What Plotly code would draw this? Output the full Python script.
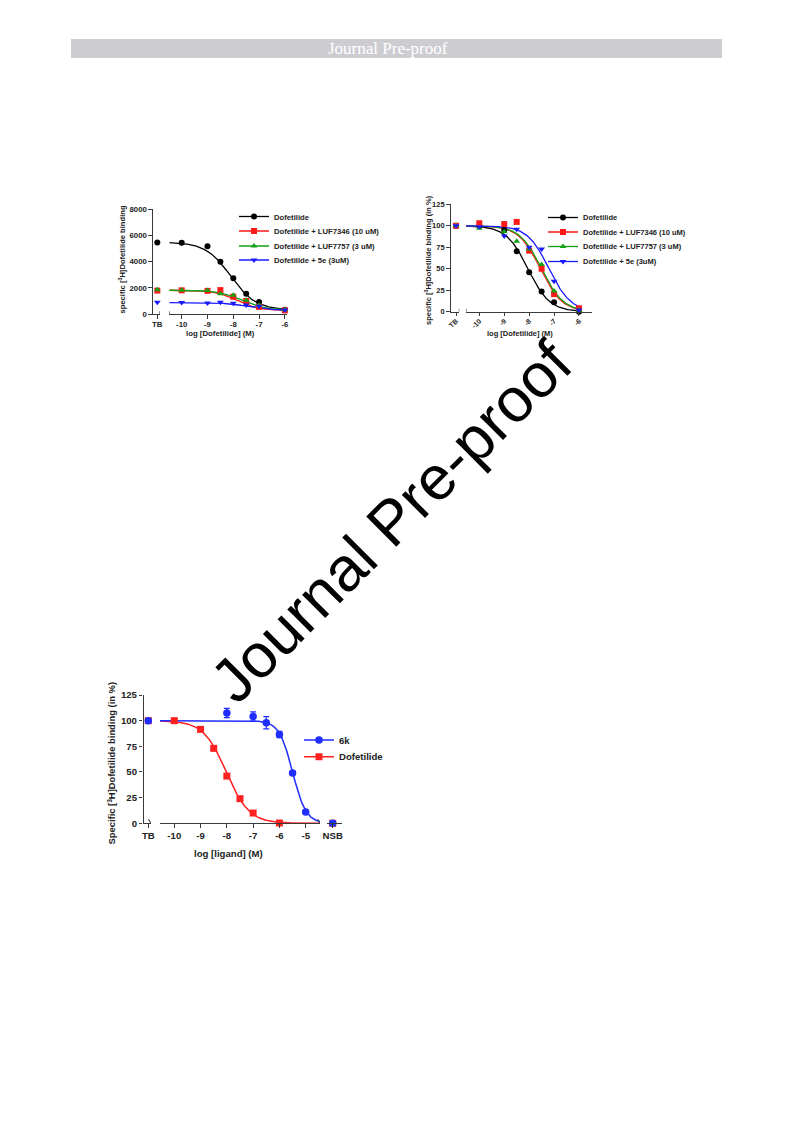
import numpy as np
import plotly.graph_objects as go

# ---------------- data ----------------
# Panel A: specific [3H]dofetilide binding (dpm), log concentration of dofetilide
a_log_dose = [-10, -9, -8.5, -8, -7.5, -7, -6]
a_dofetilide = [5440, 5170, 4000, 2730, 1570, 940, 350]
a_luf7346 = [1820, 1780, 1840, 1340, 1010, 560, 300]
a_luf7757 = [1830, 1800, 1570, 1440, 1060, 690, 340]
a_5e = [890, 860, 910, 835, 710, 610, 330]
a_tb = [5460, 1800, 1860, 920]
# fit parameters: top, bottom, logIC50, Hill slope
a_fit_dofetilide = [5480, 330, -8.1, 0.9]
a_fit_luf7346 = [1830, 280, -7.85, 1.0]
a_fit_luf7757 = [1830, 330, -7.7, 1.0]
a_fit_5e = [880, 300, -7.4, 1.0]

# Panel B: same experiment normalised to total binding (%)
b_log_dose = [-10, -9, -8.5, -8, -7.5, -7, -6]
b_dofetilide = [100, 95, 70.5, 46, 23.5, 11, 0]
b_luf7346 = [103, 102, 104.5, 71, 50, 20.5, 4]
b_luf7757 = [97, 93, 82, 73, 55, 24, 2]
b_5e = [99, 88, 96, 75, 73, 35.5, 2]
b_tb = [100, 100, 100, 100]
b_fit_dofetilide = [100, 0, -8.05, 1.0]
b_fit_luf7346 = [100, 0, -7.55, 1.0]
b_fit_luf7757 = [100, 0, -7.5, 1.0]
b_fit_5e = [100, 0, -7.2, 1.0]

# Panel C: displacement by 6k and dofetilide (%)
c_log_dose_6k = [-8, -7, -6.5, -6, -5.5, -5]
c_6k = [107.5, 104, 98, 86.5, 49, 11]
c_6k_err = [4.5, 4.5, 6, 3, 1.5, 1.5]
c_6k_tb = 100
c_6k_tb_err = 2
c_6k_nsb = 0
c_6k_nsb_err = 1.5
c_log_dose_dof = [-10, -9, -8.5, -8, -7.5, -7, -6]
c_dofetilide = [100, 91.5, 73, 46, 24, 10, 0.3]
c_dof_tb = 100
c_dof_nsb = 0
c_fit_6k = [100, 0, -5.5, 1.7]
c_fit_dofetilide = [100, 0, -8.02, 1.0]

a_names = ["Dofetilide", "Dofetilide + LUF7346 (10 uM)",
           "Dofetilide + LUF7757 (3 uM)", "Dofetilide + 5e (3uM)"]
c_names = ["6k", "Dofetilide"]

# ---------------- page geometry ----------------
W, H = 793, 1123
FONT = "Liberation Sans, Arial, sans-serif"


def fx(p):
    return p / W


def fy(p):
    return 1 - p / H


def logistic(x, top, bottom, logic50, hill):
    x = np.asarray(x, dtype=float)
    return bottom + (top - bottom) / (1 + 10 ** ((x - logic50) * hill))


def seg_range(seg, pos):
    # range of a one-category axis segment so that value 0 sits at pixel `pos`
    r0 = -(pos - seg[0]) / (seg[1] - seg[0])
    return [r0, r0 + 1]


COLORS = ["#000000", "#ff1a1a", "#16a016", "#1a1aff"]
SYMBOLS = ["circle", "square", "triangle-up", "triangle-down"]

fig = go.Figure()

# ---------------- axes layout ----------------
panels = {
    "A": dict(ytop=209, ybot=314.3, tb=[153, 160], tbpos=157.3,
              main=[169.3, 286.7], mrange=[-10.48, -5.93], yr=[0, 8000],
              yt=[0, 2000, 4000, 6000, 8000], fs=7.8,
              xa="x", xm="x2", ya="y"),
    "B": dict(ytop=204.3, ybot=311.7, tb=[450.7, 459.3], tbpos=456,
              main=[466, 591.7], mrange=[-10.534, -5.49], yr=[0, 125],
              yt=[0, 25, 50, 75, 100, 125], fs=7.5,
              xa="x3", xm="x4", ya="y2"),
    "C": dict(ytop=695, ybot=823.3, tb=[143.5, 151], tbpos=148.3,
              main=[160, 320], mrange=[-10.544, -4.456], yr=[0, 125],
              yt=[0, 25, 50, 75, 100, 125], fs=9.6,
              xa="x5", xm="x6", ya="y3",
              nsb=[327, 341.7], nsbpos=332.7, xn="x7"),
}


def axname(a):
    return a.replace("x", "xaxis").replace("y", "yaxis")


AXCOL = "#3a3a3a"
layout_axes = {}
for key, p in panels.items():
    tickfont = dict(family=FONT, size=p["fs"], color="#222", weight="bold")
    common = dict(showgrid=False, zeroline=False, showline=True,
                  linecolor=AXCOL, linewidth=1.2, ticks="outside",
                  ticklen=3.5, tickwidth=1.1, tickcolor=AXCOL,
                  tickfont=tickfont, fixedrange=True, automargin=False)
    xextra = {}
    if key == "A":
        xextra = dict(ticklabelstandoff=-1)
    if key == "B":
        xextra = dict(tickangle=-45, ticklabelstandoff=-2,
                      tickfont=dict(tickfont, size=7))
    layout_axes[axname(p["xa"])] = dict(
        common, domain=[fx(p["tb"][0]), fx(p["tb"][1])],
        range=seg_range(p["tb"], p["tbpos"]), anchor=p["ya"],
        tickvals=[0], ticktext=["TB"], **xextra)
    main_ticks = list(range(-10, int(np.floor(p["mrange"][1])) + 1))
    layout_axes[axname(p["xm"])] = dict(
        common, domain=[fx(p["main"][0]), fx(p["main"][1])],
        range=p["mrange"], anchor=p["ya"], tickvals=main_ticks,
        ticktext=[str(t) for t in main_ticks], **xextra)
    if "nsb" in p:
        layout_axes[axname(p["xn"])] = dict(
            common, domain=[fx(p["nsb"][0]), fx(p["nsb"][1])],
            range=seg_range(p["nsb"], p["nsbpos"]), anchor=p["ya"],
            tickvals=[0], ticktext=["NSB"])
    layout_axes[axname(p["ya"])] = dict(
        common, domain=[fy(p["ybot"]), fy(p["ytop"])], range=p["yr"],
        anchor=p["xa"], tickvals=p["yt"])


def curve_x(lo, hi):
    return np.linspace(lo, hi, 240)


# ---------------- panel A ----------------
pa = panels["A"]
a_vals = [a_dofetilide, a_luf7346, a_luf7757, a_5e]
a_fits = [a_fit_dofetilide, a_fit_luf7346, a_fit_luf7757, a_fit_5e]
xa_curve = curve_x(pa["mrange"][0], -6)
for i in range(4):
    fig.add_trace(go.Scatter(
        x=xa_curve, y=logistic(xa_curve, *a_fits[i]), mode="lines",
        line=dict(color=COLORS[i], width=1.3), xaxis="x2", yaxis="y",
        showlegend=False, hoverinfo="skip"))
for i in range(4):
    mk = dict(color=COLORS[i], symbol=SYMBOLS[i], size=6, line=dict(width=0))
    fig.add_trace(go.Scatter(x=a_log_dose, y=a_vals[i], mode="markers",
                             marker=mk, xaxis="x2", yaxis="y",
                             showlegend=False, cliponaxis=False))
    fig.add_trace(go.Scatter(x=[0], y=[a_tb[i]], mode="markers", marker=mk,
                             xaxis="x", yaxis="y", showlegend=False,
                             cliponaxis=False))
    fig.add_trace(go.Scatter(x=[None], y=[None], mode="lines+markers",
                             marker=mk, line=dict(color=COLORS[i], width=1.3),
                             name=a_names[i],
                             legend="legend" if i == 0 else f"legend{1 + i}",
                             xaxis="x2", yaxis="y"))

# ---------------- panel B ----------------
pb = panels["B"]
b_vals = [b_dofetilide, b_luf7346, b_luf7757, b_5e]
b_fits = [b_fit_dofetilide, b_fit_luf7346, b_fit_luf7757, b_fit_5e]
xb_curve = curve_x(pb["mrange"][0], -6)
for i in range(4):
    fig.add_trace(go.Scatter(
        x=xb_curve, y=logistic(xb_curve, *b_fits[i]), mode="lines",
        line=dict(color=COLORS[i], width=1.3), xaxis="x4", yaxis="y2",
        showlegend=False, hoverinfo="skip"))
for i in range(4):
    mk = dict(color=COLORS[i], symbol=SYMBOLS[i], size=6, line=dict(width=0))
    fig.add_trace(go.Scatter(x=b_log_dose, y=b_vals[i], mode="markers",
                             marker=mk, xaxis="x4", yaxis="y2",
                             showlegend=False, cliponaxis=False))
    fig.add_trace(go.Scatter(x=[0], y=[b_tb[i]], mode="markers", marker=mk,
                             xaxis="x3", yaxis="y2", showlegend=False,
                             cliponaxis=False))
    fig.add_trace(go.Scatter(x=[None], y=[None], mode="lines+markers",
                             marker=mk, line=dict(color=COLORS[i], width=1.3),
                             name=a_names[i], legend=f"legend{5 + i}",
                             xaxis="x4", yaxis="y2"))

# ---------------- panel C ----------------
pc = panels["C"]
RED, BLUE = "#ff2020", "#1f2dff"
xc_curve = curve_x(pc["mrange"][0], pc["mrange"][1])
fig.add_trace(go.Scatter(x=xc_curve, y=logistic(xc_curve, *c_fit_dofetilide),
                         mode="lines", line=dict(color=RED, width=1.5),
                         xaxis="x6", yaxis="y3", showlegend=False,
                         hoverinfo="skip"))
fig.add_trace(go.Scatter(x=xc_curve, y=logistic(xc_curve, *c_fit_6k),
                         mode="lines", line=dict(color=BLUE, width=1.5),
                         xaxis="x6", yaxis="y3", showlegend=False,
                         hoverinfo="skip"))
mk_dof = dict(color=RED, symbol="square", size=7, line=dict(width=0))
mk_6k = dict(color=BLUE, symbol="circle", size=7.5, line=dict(width=0))
fig.add_trace(go.Scatter(x=c_log_dose_dof, y=c_dofetilide, mode="markers",
                         marker=mk_dof, xaxis="x6", yaxis="y3",
                         showlegend=False, cliponaxis=False))
fig.add_trace(go.Scatter(x=[0], y=[c_dof_tb], mode="markers", marker=mk_dof,
                         xaxis="x5", yaxis="y3", showlegend=False,
                         cliponaxis=False))
fig.add_trace(go.Scatter(x=[0], y=[c_dof_nsb], mode="markers", marker=mk_dof,
                         xaxis="x7", yaxis="y3", showlegend=False,
                         cliponaxis=False))
err = dict(type="data", color=BLUE, thickness=1.2, width=3)
fig.add_trace(go.Scatter(x=c_log_dose_6k, y=c_6k, mode="markers", marker=mk_6k,
                         error_y=dict(err, array=c_6k_err),
                         xaxis="x6", yaxis="y3", showlegend=False,
                         cliponaxis=False))
fig.add_trace(go.Scatter(x=[0], y=[c_6k_tb], mode="markers", marker=mk_6k,
                         error_y=dict(err, array=[c_6k_tb_err]),
                         xaxis="x5", yaxis="y3", showlegend=False,
                         cliponaxis=False))
fig.add_trace(go.Scatter(x=[0], y=[c_6k_nsb], mode="markers", marker=mk_6k,
                         error_y=dict(err, array=[c_6k_nsb_err]),
                         xaxis="x7", yaxis="y3", showlegend=False,
                         cliponaxis=False))
for j, (name, mk, col) in enumerate([(c_names[0], mk_6k, BLUE),
                                     (c_names[1], mk_dof, RED)]):
    fig.add_trace(go.Scatter(x=[None], y=[None], mode="lines+markers",
                             marker=mk, line=dict(color=col, width=1.5),
                             name=name, legend=f"legend{9 + j}",
                             xaxis="x6", yaxis="y3"))

# ---------------- axis break marks ----------------
shapes = []


def brk(xref, xval, yref, style):
    if style == "bar":
        x0, x1, y0, y1 = 0, 0, -3, 3
    else:
        x0, x1, y0, y1 = -2.5, 2.5, 4, -4
    shapes.append(dict(type="line", xref=xref, yref=yref,
                       xsizemode="pixel", ysizemode="pixel",
                       xanchor=xval, yanchor=0, x0=x0, x1=x1, y0=y0, y1=y1,
                       line=dict(color=AXCOL, width=1.1)))


for key, xa, xm, ya, style in [("A", "x", "x2", "y", "bar"),
                               ("B", "x3", "x4", "y2", "bar"),
                               ("C", "x5", "x6", "y3", "slash")]:
    p = panels[key]
    brk(xa, seg_range(p["tb"], p["tbpos"])[1], ya, style)
    brk(xm, p["mrange"][0], ya, style)
    if key == "C":
        brk(xm, p["mrange"][1], ya, style)
        brk("x7", seg_range(p["nsb"], p["nsbpos"])[0], ya, style)

# page header band
shapes.append(dict(type="rect", xref="paper", yref="paper",
                   x0=fx(71), x1=fx(722), y0=fy(58), y1=fy(39),
                   fillcolor="#cdcdd1", line=dict(width=0), layer="below"))

# ---------------- text ----------------
annotations = []


def label(text, x, y, size, angle=0):
    annotations.append(dict(text=text, x=fx(x), y=fy(y), xref="paper",
                            yref="paper", showarrow=False, textangle=angle,
                            xanchor="center", yanchor="middle",
                            font=dict(family=FONT, size=size, color="#222",
                                      weight="bold")))


label("log [Dofetilide] (M)", 221, 333, 7.8)
label("specific [<sup>3</sup>H]Dofetilide binding", 121.5, 259, 7.6, -90)
label("log [Dofetilide] (M)", 520, 333, 7.5)
label("specific [<sup>3</sup>H]Dofetilide binding (in %)", 428, 260, 7.5, -90)
label("log [ligand] (M)", 228, 853, 9.6)
label("Specific [<sup>3</sup>H]Dofetilide binding (in %)", 111.5, 763, 9.4, -90)

annotations.append(dict(text="Journal Pre-proof", x=fx(388), y=fy(48.5),
                        xref="paper", yref="paper", showarrow=False,
                        xanchor="center", yanchor="middle",
                        font=dict(family="Liberation Serif, Times New Roman, serif",
                                  size=17, color="#ffffff")))
annotations.append(dict(text="Journal Pre-proof", x=fx(391), y=fy(521),
                        xref="paper", yref="paper", showarrow=False,
                        xanchor="center", yanchor="middle",
                        textangle=-45,
                        font=dict(family=FONT, size=62, color="#000000")))


def legend_box(x, ymid, size):
    return dict(x=fx(x), y=fy(ymid), xref="paper", yref="paper",
                xanchor="left", yanchor="middle", bgcolor="rgba(0,0,0,0)",
                borderwidth=0, itemclick=False, itemdoubleclick=False,
                font=dict(family=FONT, size=size, color="#222", weight="bold"))


legends = {}
a_rows = [216.5, 231, 246, 260]
b_rows = [217.5, 232, 246.5, 261.5]
c_rows = [740, 756.7]
for i, yrow in enumerate(a_rows):
    legends["legend" if i == 0 else f"legend{1 + i}"] = legend_box(234, yrow, 7.7)
for i, yrow in enumerate(b_rows):
    legends[f"legend{5 + i}"] = legend_box(543, yrow, 7.5)
for j, yrow in enumerate(c_rows):
    legends[f"legend{9 + j}"] = legend_box(299, yrow, 9.6)

fig.update_layout(
    width=W, height=H, margin=dict(l=0, r=0, t=0, b=0),
    paper_bgcolor="white", plot_bgcolor="rgba(0,0,0,0)",
    shapes=shapes, annotations=annotations,
    hovermode=False,
    **legends,
    **layout_axes,
)

fig.write_html("out.html")
